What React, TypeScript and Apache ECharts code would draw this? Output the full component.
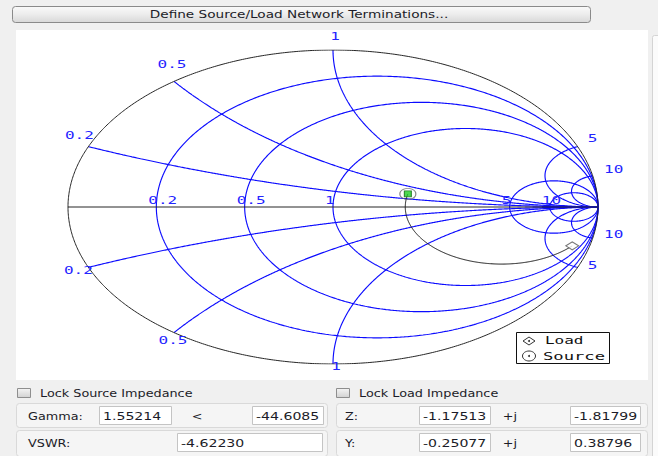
import React, { useEffect, useRef } from "react";
import * as echarts from "echarts";

// ---- Smith chart grid values ----
const resistanceValues = [0.2, 0.5, 1, 5, 10];
const reactanceValues = [0.2, 0.5, 1, 5, 10];
const resistanceLabels = ["0.2", "0.5", "1", "5", "10"];
const reactanceLabels = ["0.2", "0.5", "1", "5", "10"];

// ---- terminations (normalised impedance r, x) ----
const sourceZ = [1.75, 0.32];
const loadZ = [1.75, -7];

// ---- UI texts / values ----
const buttonText = "Define Source/Load Network Terminations...";
const gammaValues = ["1.55214", "-44.6085"];
const vswrValue = "-4.62230";
const zValues = ["-1.17513", "-1.81799"];
const yValues = ["-0.25077", "0.38796"];
const legendNames = ["Load", "Source"];

// label offsets (pixels, style only)
const rimOffsetsTop = [[-9, -11], [-2, -17], [2, -13], [15, -8], [21, -6]];
const rimOffsetsBottom = [[-10, 3], [-1, 8], [3, 3], [15, -2], [21, -3]];

const BLUE = "#0c0cff";
const LABEL_BLUE = "#2424ff";
const UI_TEXT = "#1c1c28";

function gamma(r: number, x: number): number[] {
  const d = (r + 1) * (r + 1) + x * x;
  return [(r * r + x * x - 1) / d, (2 * x) / d];
}

function resistanceCircle(r: number): number[][] {
  const c = r / (1 + r);
  const R = 1 / (1 + r);
  const pts: number[][] = [];
  for (let i = 0; i <= 720; i++) {
    const t = (i / 720) * Math.PI * 2;
    pts.push([c + R * Math.cos(t), R * Math.sin(t)]);
  }
  return pts;
}

function reactanceArc(x: number): number[][] {
  const pts: number[][] = [];
  const n = 500;
  for (let i = 0; i < n; i++) {
    const r = Math.tan((i / n) * (Math.PI / 2));
    pts.push(gamma(r, x));
  }
  pts.push([1, 0]);
  return pts;
}

function constantRPath(r: number, x0: number, x1: number): number[][] {
  const pts: number[][] = [];
  const n = 800;
  for (let i = 0; i <= n; i++) {
    const x = x0 + ((x1 - x0) * i) / n;
    pts.push(gamma(r, x));
  }
  return pts;
}

const lineSeries = (data: number[][], color: string, z = 2, width = 1.15) => ({
  type: "line",
  data,
  symbol: "none",
  showSymbol: false,
  silent: true,
  z,
  lineStyle: { color, width },
});

function txt(
  text: string,
  x: number,
  y: number,
  o: { size?: number; family?: string; sx?: number; color?: string; align?: string } = {}
) {
  const align = o.align ?? "left";
  return {
    type: "text",
    x,
    y,
    scaleX: o.sx ?? 1.22,
    z: 20,
    silent: true,
    style: {
      text,
      fill: o.color ?? UI_TEXT,
      fontSize: o.size ?? 10.5,
      fontFamily: o.family ?? "DejaVu Sans",
      align,
      verticalAlign: "middle",
      textAlign: align,
      textVerticalAlign: "middle",
    },
  };
}

function rect(x: number, y: number, w: number, h: number, fill: any, stroke: string | null, r = 0, z = 1) {
  return {
    type: "rect",
    z,
    silent: true,
    shape: { x, y, width: w, height: h, r },
    style: { fill, stroke: stroke ?? "none", lineWidth: 1 },
  };
}

const vGrad = (stops: [number, string][]) => ({
  type: "linear",
  x: 0,
  y: 0,
  x2: 0,
  y2: 1,
  colorStops: stops.map(([offset, color]) => ({ offset, color })),
});

export default function App() {
  const ref = useRef<HTMLDivElement>(null);

  useEffect(() => {
    if (!ref.current) return;
    const chart = echarts.init(ref.current, null, { renderer: "svg" });

    const series: any[] = [];
    resistanceValues.forEach((r) => series.push(lineSeries(resistanceCircle(r), BLUE)));
    reactanceValues.forEach((x) => {
      series.push(lineSeries(reactanceArc(x), BLUE));
      series.push(lineSeries(reactanceArc(-x), BLUE));
    });
    series.push(lineSeries(resistanceCircle(0), "#262626", 3, 1));
    series.push(lineSeries([[-1, 0], [1, 0]], "#262626", 3, 1));
    series.push(lineSeries(constantRPath(sourceZ[0], sourceZ[1], loadZ[1]), "#1a1a1a", 4, 1));
    // load marker
    series.push({
      type: "scatter",
      name: legendNames[0],
      data: [gamma(loadZ[0], loadZ[1])],
      symbol: "diamond",
      symbolSize: [13, 8],
      silent: true,
      z: 6,
      itemStyle: { color: "#ffffff", borderColor: "#555555", borderWidth: 1 },
    });
    // source marker
    series.push({
      type: "scatter",
      name: legendNames[1],
      data: [gamma(sourceZ[0], sourceZ[1])],
      symbol: "circle",
      symbolSize: [16, 11],
      silent: true,
      z: 6,
      itemStyle: { color: "rgba(255,255,255,0)", borderColor: "#666666", borderWidth: 1 },
    });
    series.push({
      type: "scatter",
      data: [gamma(sourceZ[0], sourceZ[1])],
      symbol: "rect",
      symbolSize: [7, 6],
      silent: true,
      z: 7,
      itemStyle: { color: "#22d022", borderColor: "#0f6a0f", borderWidth: 1 },
    });

    chart.setOption({
      animation: false,
      backgroundColor: "#f0f0f0",
      grid: { left: 68, right: 60, top: 50, bottom: 92 },
      xAxis: { type: "value", min: -1, max: 1, show: false },
      yAxis: { type: "value", min: -1, max: 1, show: false },
      series,
    });

    const px = (p: number[]) => chart.convertToPixel({ gridIndex: 0 }, p) as unknown as number[];

    const g: any[] = [];
    // frame / panels
    g.push(rect(12.5, 6.5, 578, 16, vGrad([[0, "#fafafa"], [0.5, "#ececec"], [1, "#d8d8d8"]]), "#8a8a8a", 3, 1));
    g.push(txt(buttonText, 299, 15, { align: "center", sx: 1.3 }));
    g.push(rect(16, 30, 632, 350, "#ffffff", null, 0, 0));
    g.push(rect(652.5, 35.5, 10, 430, "#fbfbfb", "#d4d4d4", 2, 1));

    // Smith chart labels on the axis
    const axisPix = px([0, 0]);
    resistanceValues.forEach((r, i) => {
      const p = px(gamma(r, 0));
      g.push(txt(resistanceLabels[i], p[0] - 8, axisPix[1] - 6, { family: "DejaVu Sans Mono", size: 10, sx: 1.6, color: LABEL_BLUE }));
    });
    // labels on the rim
    reactanceValues.forEach((x, i) => {
      const pt = px(gamma(0, x));
      const pb = px(gamma(0, -x));
      g.push(txt(reactanceLabels[i], pt[0] + rimOffsetsTop[i][0], pt[1] + rimOffsetsTop[i][1], { family: "DejaVu Sans Mono", size: 10, sx: 1.6, color: LABEL_BLUE, align: "center" }));
      g.push(txt(reactanceLabels[i], pb[0] + rimOffsetsBottom[i][0], pb[1] + rimOffsetsBottom[i][1], { family: "DejaVu Sans Mono", size: 10, sx: 1.6, color: LABEL_BLUE, align: "center" }));
    });

    // legend
    g.push(rect(516.5, 332.5, 93, 31, "#ffffff", "#111111", 0, 10));
    g.push({ type: "polygon", z: 11, silent: true, shape: { points: [[523, 341], [529, 337], [535, 341], [529, 345]] }, style: { fill: "#ffffff", stroke: "#333", lineWidth: 1 } });
    g.push({ type: "circle", z: 11, silent: true, shape: { cx: 529, cy: 341, r: 1 }, style: { fill: "#333" } });
    g.push({ type: "ellipse", z: 11, silent: true, shape: { cx: 529, cy: 356, rx: 6.5, ry: 5 }, style: { fill: "#ffffff", stroke: "#333", lineWidth: 1 } });
    g.push({ type: "circle", z: 11, silent: true, shape: { cx: 529, cy: 356, r: 1 }, style: { fill: "#333" } });
    g.push(txt(legendNames[0], 545, 340.5, { family: "DejaVu Sans Mono", size: 10, sx: 1.6, color: "#111" }));
    g.push(txt(legendNames[1], 543, 356, { family: "DejaVu Sans Mono", size: 10, sx: 1.72, color: "#111" }));

    // bottom controls
    const cb = vGrad([[0, "#f4f4f4"], [1, "#d2d2d2"]]);
    g.push(rect(17.5, 388.5, 13, 9, cb, "#8e8e8e", 0, 1));
    g.push(txt("Lock Source Impedance", 40, 393.5));
    g.push(rect(336.5, 388.5, 13, 9, cb, "#8e8e8e", 0, 1));
    g.push(txt("Lock Load Impedance", 359, 393.5));

    const panelFill = "#f5f5f5";
    const panelStroke = "#d9d9d9";
    g.push(rect(16.5, 403.5, 311, 24, panelFill, panelStroke, 3, 1));
    g.push(rect(16.5, 430.5, 311, 26, panelFill, panelStroke, 3, 1));
    g.push(rect(336.5, 403.5, 311, 24, panelFill, panelStroke, 3, 1));
    g.push(rect(336.5, 430.5, 311, 26, panelFill, panelStroke, 3, 1));

    const inputStroke = "#c4c4c4";
    const boxes: [number, number, number, number, string][] = [
      [99.5, 406.5, 72, 18, gammaValues[0]],
      [252.5, 406.5, 71, 18, gammaValues[1]],
      [177.5, 433.5, 145, 18, vswrValue],
      [419.5, 406.5, 71, 18, zValues[0]],
      [570.5, 406.5, 70, 18, zValues[1]],
      [419.5, 433.5, 71, 18, yValues[0]],
      [570.5, 433.5, 70, 18, yValues[1]],
    ];
    boxes.forEach(([x, y, w, h, t]) => {
      g.push(rect(x, y, w, h, "#ffffff", inputStroke, 0, 2));
      g.push(txt(t, x + 3.5, y + h / 2 + 0.5, { size: 11, sx: 1.28 }));
    });
    g.push(txt("Gamma:", 28, 416));
    g.push(txt("<", 197, 416, { align: "center" }));
    g.push(txt("VSWR:", 28, 443.5));
    g.push(txt("Z:", 345, 416));
    g.push(txt("+j", 510, 416, { align: "center" }));
    g.push(txt("Y:", 345, 443.5));
    g.push(txt("+j", 510, 443.5, { align: "center" }));

    chart.setOption({ graphic: g });

    return () => chart.dispose();
  }, []);

  return (
    <div
      ref={ref}
      style={{ position: "absolute", left: 0, top: 0, width: 658, height: 456 }}
    />
  );
}
